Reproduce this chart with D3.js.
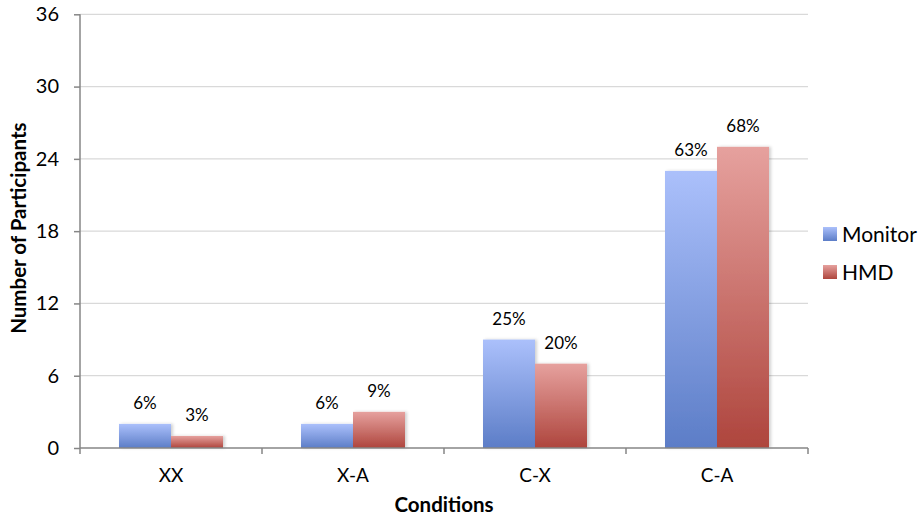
<!DOCTYPE html>
<html><head><meta charset="utf-8">
<script src="https://cdn.jsdelivr.net/npm/d3@7"></script>
<style>body{margin:0;background:#fff}svg{display:block}text{font-family:Lato,"Open Sans",sans-serif;fill:#000}</style>
</head><body>
<script>
const categories = ["XX","X-A","C-X","C-A"];
const seriesNames = ["Monitor","HMD"];
const monitor = [2,2,9,23];
const hmd = [1,3,7,25];
const monitorPct = ["6%","6%","25%","63%"];
const hmdPct = ["3%","9%","20%","68%"];
const yTicks = [0,6,12,18,24,30,36];

const W=920,H=517;
const m={left:80,right:112,top:14.3,bottom:69};
const svg=d3.select("body").append("svg").attr("width",W).attr("height",H);
const defs=svg.append("defs");
const grads=[["gMon","#abc0fb","#5c7dc7"],["gHmd","#e6a19e","#ae453d"]];
grads.forEach(([id,c1,c2])=>{
  const g=defs.append("linearGradient").attr("id",id).attr("x1",0).attr("y1",0).attr("x2",0).attr("y2",1);
  g.append("stop").attr("offset","0%").attr("stop-color",c1);
  g.append("stop").attr("offset","100%").attr("stop-color",c2);
});
const f=defs.append("filter").attr("id","sh").attr("x","-20%").attr("y","-20%").attr("width","150%").attr("height","140%");
f.append("feDropShadow").attr("dx",2).attr("dy",0).attr("stdDeviation",1.5).attr("flood-color","#000").attr("flood-opacity",0.18);

const x=d3.scaleBand().domain(categories).range([m.left,W-m.right]).paddingInner(0).paddingOuter(0);
const xs=d3.scaleBand().domain(seriesNames).range([0,x.bandwidth()]).paddingInner(0).paddingOuter(0.75);
const y=d3.scaleLinear().domain([0,36]).range([H-m.bottom,m.top]);

// gridlines
svg.append("g").selectAll("line").data(yTicks.filter(d=>d>0)).join("line")
  .attr("x1",m.left).attr("x2",W-m.right).attr("y1",d=>y(d)).attr("y2",d=>y(d))
  .attr("stroke","#d9d9d9").attr("stroke-width",1.2);

const data=categories.map((c,i)=>({c,vals:[{s:"Monitor",v:monitor[i],p:monitorPct[i],g:"gMon"},{s:"HMD",v:hmd[i],p:hmdPct[i],g:"gHmd"}]}));
const grp=svg.append("g").selectAll("g").data(data).join("g").attr("transform",d=>`translate(${x(d.c)},0)`);
grp.selectAll("rect").data(d=>d.vals).join("rect")
  .attr("x",d=>xs(d.s)).attr("width",xs.bandwidth()).attr("y",d=>y(d.v)).attr("height",d=>y(0)-y(d.v))
  .attr("fill",d=>`url(#${d.g})`).attr("filter","url(#sh)");
grp.selectAll("text").data(d=>d.vals).join("text")
  .attr("x",d=>xs(d.s)+xs.bandwidth()/2).attr("y",d=>y(d.v)-14.5)
  .attr("text-anchor","middle").attr("font-size",17).text(d=>d.p);

// y axis
const ya=svg.append("g").attr("transform",`translate(${m.left},0)`)
  .call(d3.axisLeft(y).tickValues(yTicks).tickSize(6).tickPadding(15).tickFormat(d3.format("d")));
ya.select(".domain").attr("stroke","#868686").attr("stroke-width",1.5).attr("d",`M0,${y(36)}V${y(0)}`);
ya.selectAll(".tick line").attr("stroke","#868686").attr("stroke-width",1.5);
ya.selectAll(".tick text").attr("font-size",20).attr("font-family","Lato,'Open Sans',sans-serif").attr("fill","#000");

// x axis
const xa=svg.append("g").attr("transform",`translate(0,${y(0)})`)
  .call(d3.axisBottom(x).tickSize(0).tickPadding(21));
xa.select(".domain").attr("stroke","#868686").attr("stroke-width",1.5).attr("d",`M${m.left},0H${W-m.right}`);
xa.selectAll(".tick text").attr("font-size",19).attr("font-family","Lato,'Open Sans',sans-serif").attr("fill","#000");
const bounds=categories.map(c=>x(c)).concat([x(categories[categories.length-1])+x.bandwidth()]);
xa.append("g").selectAll("line").data(bounds).join("line")
  .attr("x1",d=>d).attr("x2",d=>d).attr("y1",0).attr("y2",6).attr("stroke","#868686").attr("stroke-width",1.5);

// axis titles
svg.append("text").attr("x",(m.left+W-m.right)/2).attr("y",512).attr("text-anchor","middle")
  .attr("font-size",20.5).attr("font-weight","bold").text("Conditions");
svg.append("text").attr("transform",`translate(26,${(y(0)+y(36))/2-3}) rotate(-90)`).attr("text-anchor","middle")
  .attr("font-size",20.5).attr("font-weight","bold").text("Number of Participants");

// legend
const lg=svg.append("g").selectAll("g").data(seriesNames).join("g").attr("transform",(d,i)=>`translate(823,${227+i*38})`);
lg.append("rect").attr("width",14).attr("height",14).attr("fill",(d,i)=>`url(#${grads[i][0]})`);
lg.append("text").attr("x",19).attr("y",15).attr("font-size",21).text(d=>d);
</script>
</body></html>
